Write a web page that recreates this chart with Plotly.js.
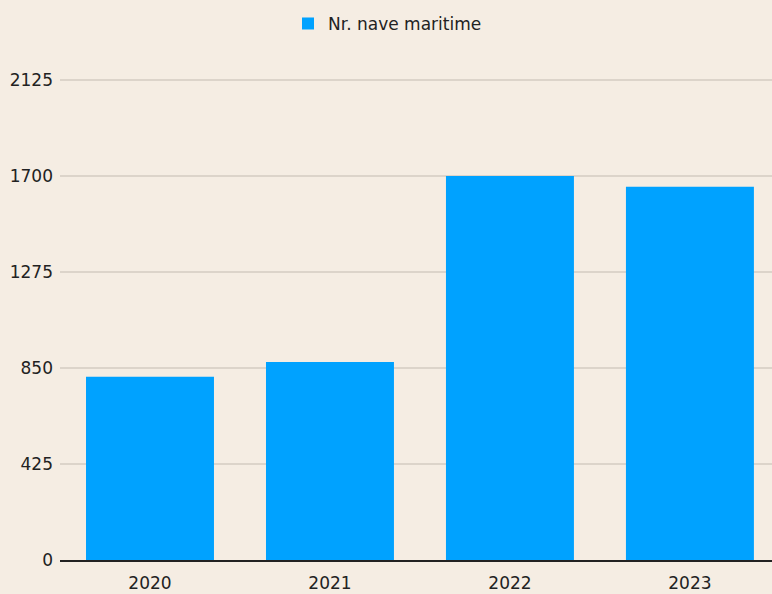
<!DOCTYPE html>
<html>
<head>
<meta charset="utf-8">
<script src="https://cdn.plot.ly/plotly-3.0.1.min.js"></script>
<style>html,body{margin:0;padding:0;background:#F5EDE3;}#chart{width:772px;height:594px;}</style>
</head>
<body>
<div id="chart"></div>
<script>
const categories = ["2020", "2021", "2022", "2023"];
const seriesName = "Nr. nave maritime";
const values = [811, 876, 1700, 1652];
const yTicks = [0, 425, 850, 1275, 1700, 2125];

Plotly.newPlot("chart", [{
  type: "bar",
  x: categories,
  y: values,
  name: seriesName,
  marker: {color: "#00A2FF"},
  hoverinfo: "none"
}], {
  width: 772, height: 594,
  paper_bgcolor: "#F5EDE3",
  plot_bgcolor: "#F5EDE3",
  font: {family: "DejaVu Sans, Verdana, sans-serif", size: 17, color: "#222"},
  margin: {l: 60, r: 0, t: 63, b: 34, pad: 0},
  bargap: 0.289,
  showlegend: true,
  legend: {orientation: "h", x: 0.46, xanchor: "center", y: 0.99, yanchor: "top", yref: "container",
           font: {size: 17, color: "#222"}, bgcolor: "rgba(0,0,0,0)"},
  xaxis: {
    type: "category",
    range: [-0.5, 3.456],
    showgrid: false,
    showline: true, linecolor: "#222", linewidth: 2,
    ticks: "", ticklabelstandoff: 7,
    zeroline: false
  },
  yaxis: {
    range: [0, 2200],
    tickvals: yTicks,
    ticktext: yTicks.map(String),
    showgrid: true, gridcolor: "#DCD4CA", gridwidth: 1.5,
    zeroline: false,
    showline: false,
    ticks: "", ticklabelstandoff: 6
  }
}, {displayModeBar: false, staticPlot: true});
</script>
</body>
</html>
